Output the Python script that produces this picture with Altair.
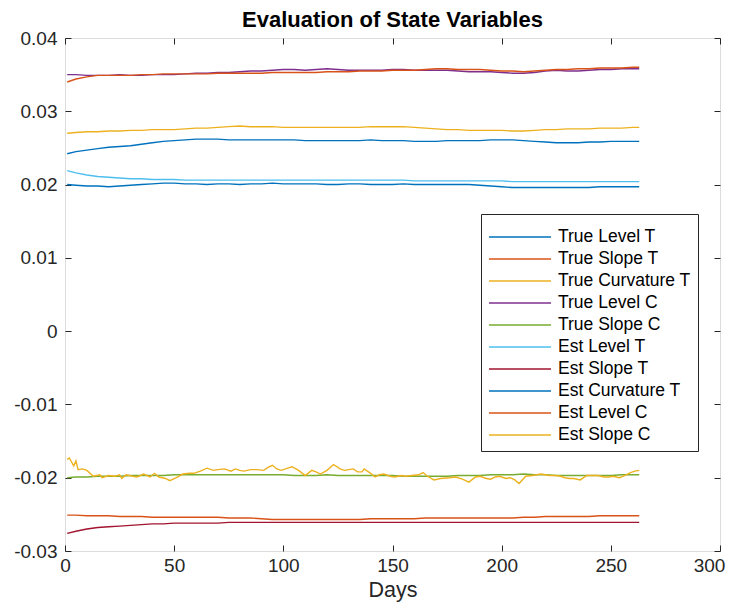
import altair as alt
import pandas as pd

days = [1, 5, 10, 15, 20, 25, 30, 35, 40, 45,
        50, 55, 60, 65, 70, 75, 80, 85, 90, 95,
        100, 105, 110, 115, 120, 125, 130, 135, 140, 145,
        150, 155, 160, 165, 170, 175, 180, 185, 190, 195,
        200, 205, 210, 215, 220, 225, 230, 235, 240, 245,
        250, 255, 260, 263]

true_level_t = [0.0200, 0.0199, 0.0198, 0.0198, 0.0197, 0.0198, 0.0199, 0.0200, 0.0201, 0.0202,
                0.0202, 0.0201, 0.0201, 0.0200, 0.0201, 0.0201, 0.0200, 0.0201, 0.0201, 0.0202,
                0.0201, 0.0201, 0.0201, 0.0201, 0.0200, 0.0200, 0.0201, 0.0201, 0.0200, 0.0200,
                0.0200, 0.0201, 0.0200, 0.0200, 0.0200, 0.0200, 0.0200, 0.0200, 0.0199, 0.0198,
                0.0197, 0.0196, 0.0196, 0.0196, 0.0196, 0.0196, 0.0196, 0.0196, 0.0196, 0.0197,
                0.0197, 0.0197, 0.0197, 0.0197]
true_slope_t = [-0.0251, -0.0251, -0.0252, -0.0252, -0.0252, -0.0253, -0.0253, -0.0253, -0.0254, -0.0254,
                -0.0254, -0.0254, -0.0254, -0.0254, -0.0254, -0.0255, -0.0255, -0.0255, -0.0256, -0.0257,
                -0.0257, -0.0257, -0.0257, -0.0257, -0.0257, -0.0257, -0.0257, -0.0257, -0.0256, -0.0256,
                -0.0256, -0.0256, -0.0256, -0.0255, -0.0255, -0.0255, -0.0255, -0.0255, -0.0255, -0.0255,
                -0.0255, -0.0255, -0.0254, -0.0254, -0.0253, -0.0253, -0.0253, -0.0253, -0.0253, -0.0252,
                -0.0252, -0.0252, -0.0252, -0.0252]
true_curv_t = [0.0270, 0.0271, 0.0272, 0.0272, 0.0273, 0.0273, 0.0274, 0.0274, 0.0275, 0.0275,
               0.0275, 0.0276, 0.0277, 0.0277, 0.0278, 0.0279, 0.0280, 0.0279, 0.0279, 0.0279,
               0.0278, 0.0278, 0.0278, 0.0278, 0.0278, 0.0278, 0.0278, 0.0278, 0.0279, 0.0279,
               0.0279, 0.0279, 0.0278, 0.0277, 0.0276, 0.0275, 0.0275, 0.0274, 0.0274, 0.0274,
               0.0274, 0.0273, 0.0273, 0.0274, 0.0275, 0.0275, 0.0276, 0.0276, 0.0276, 0.0277,
               0.0277, 0.0277, 0.0278, 0.0278]
true_level_c = [0.0350, 0.0350, 0.0349, 0.0349, 0.0349, 0.0350, 0.0349, 0.0349, 0.0350, 0.0350,
                0.0350, 0.0351, 0.0352, 0.0352, 0.0353, 0.0353, 0.0354, 0.0355, 0.0355, 0.0356,
                0.0357, 0.0357, 0.0356, 0.0357, 0.0358, 0.0357, 0.0356, 0.0356, 0.0356, 0.0356,
                0.0357, 0.0357, 0.0356, 0.0356, 0.0356, 0.0356, 0.0355, 0.0354, 0.0354, 0.0354,
                0.0353, 0.0352, 0.0352, 0.0353, 0.0355, 0.0356, 0.0355, 0.0355, 0.0356, 0.0357,
                0.0357, 0.0358, 0.0358, 0.0358]
true_slope_c = [-0.0200, -0.0199, -0.0199, -0.0198, -0.0198, -0.0198, -0.0197, -0.0197, -0.0197, -0.0197,
                -0.0196, -0.0196, -0.0196, -0.0196, -0.0196, -0.0196, -0.0196, -0.0196, -0.0196, -0.0196,
                -0.0196, -0.0197, -0.0197, -0.0197, -0.0196, -0.0197, -0.0197, -0.0197, -0.0197, -0.0197,
                -0.0197, -0.0198, -0.0198, -0.0198, -0.0198, -0.0198, -0.0197, -0.0197, -0.0197, -0.0196,
                -0.0196, -0.0196, -0.0195, -0.0196, -0.0196, -0.0197, -0.0197, -0.0197, -0.0197, -0.0197,
                -0.0197, -0.0196, -0.0196, -0.0196]
est_level_t = [0.0219, 0.0216, 0.0213, 0.0211, 0.0210, 0.0209, 0.0208, 0.0208, 0.0207, 0.0207,
               0.0207, 0.0206, 0.0206, 0.0206, 0.0206, 0.0206, 0.0206, 0.0206, 0.0206, 0.0206,
               0.0206, 0.0206, 0.0206, 0.0206, 0.0206, 0.0206, 0.0206, 0.0206, 0.0206, 0.0206,
               0.0206, 0.0206, 0.0205, 0.0205, 0.0205, 0.0205, 0.0205, 0.0205, 0.0205, 0.0205,
               0.0205, 0.0204, 0.0204, 0.0204, 0.0204, 0.0204, 0.0204, 0.0204, 0.0204, 0.0204,
               0.0204, 0.0204, 0.0204, 0.0204]
est_slope_t = [-0.0276, -0.0273, -0.0270, -0.0268, -0.0267, -0.0266, -0.0265, -0.0264, -0.0263, -0.0263,
               -0.0262, -0.0262, -0.0262, -0.0262, -0.0262, -0.0261, -0.0261, -0.0261, -0.0261, -0.0261,
               -0.0261, -0.0261, -0.0261, -0.0261, -0.0261, -0.0261, -0.0261, -0.0261, -0.0261, -0.0261,
               -0.0261, -0.0261, -0.0261, -0.0261, -0.0261, -0.0261, -0.0261, -0.0261, -0.0261, -0.0261,
               -0.0261, -0.0261, -0.0261, -0.0261, -0.0261, -0.0261, -0.0261, -0.0261, -0.0261, -0.0261,
               -0.0261, -0.0261, -0.0261, -0.0261]
est_curv_t = [0.0242, 0.0245, 0.0247, 0.0249, 0.0251, 0.0252, 0.0253, 0.0255, 0.0257, 0.0259,
              0.0260, 0.0261, 0.0262, 0.0262, 0.0262, 0.0261, 0.0261, 0.0261, 0.0261, 0.0261,
              0.0261, 0.0261, 0.0260, 0.0260, 0.0260, 0.0260, 0.0260, 0.0260, 0.0261, 0.0260,
              0.0260, 0.0260, 0.0259, 0.0259, 0.0259, 0.0260, 0.0260, 0.0260, 0.0260, 0.0261,
              0.0261, 0.0261, 0.0260, 0.0259, 0.0258, 0.0257, 0.0257, 0.0257, 0.0258, 0.0258,
              0.0259, 0.0259, 0.0259, 0.0259]
est_level_c = [0.0340, 0.0344, 0.0347, 0.0349, 0.0349, 0.0349, 0.0349, 0.0350, 0.0350, 0.0351,
               0.0351, 0.0351, 0.0351, 0.0351, 0.0352, 0.0352, 0.0352, 0.0352, 0.0352, 0.0353,
               0.0353, 0.0353, 0.0353, 0.0353, 0.0354, 0.0354, 0.0354, 0.0355, 0.0355, 0.0355,
               0.0356, 0.0356, 0.0356, 0.0357, 0.0358, 0.0358, 0.0357, 0.0357, 0.0357, 0.0356,
               0.0355, 0.0355, 0.0354, 0.0355, 0.0356, 0.0357, 0.0357, 0.0358, 0.0358, 0.0359,
               0.0359, 0.0359, 0.0360, 0.0360]

# noisy series, read at irregular days: (day, value)
est_slope_c = [(1, -0.0175), (2, -0.0173), (4, -0.0184), (5, -0.0177), (6, -0.0189), (8, -0.0188),
               (10, -0.0190), (13, -0.0198), (16, -0.0196), (17, -0.0200), (20, -0.0197), (23, -0.0198),
               (25, -0.0196), (26, -0.0201), (28, -0.0196), (31, -0.0198), (33, -0.0199), (36, -0.0195),
               (39, -0.0199), (41, -0.0194), (43, -0.0199), (46, -0.0201), (48, -0.0204), (51, -0.0200),
               (54, -0.0195), (57, -0.0194), (59, -0.0194), (62, -0.0191), (65, -0.0187), (68, -0.0190),
               (70, -0.0189), (73, -0.0188), (76, -0.0191), (78, -0.0188), (80, -0.0190), (82, -0.0191),
               (85, -0.0189), (88, -0.0189), (91, -0.0190), (93, -0.0186), (95, -0.0183), (97, -0.0188),
               (99, -0.0190), (102, -0.0187), (104, -0.0185), (107, -0.0190), (110, -0.0197), (113, -0.0190),
               (115, -0.0192), (117, -0.0195), (120, -0.0190), (123, -0.0182), (126, -0.0188), (128, -0.0190),
               (130, -0.0189), (132, -0.0188), (134, -0.0192), (136, -0.0192), (137, -0.0188), (140, -0.0194),
               (142, -0.0199), (144, -0.0196), (146, -0.0195), (149, -0.0198), (151, -0.0199), (154, -0.0197),
               (156, -0.0198), (159, -0.0197), (162, -0.0196), (164, -0.0193), (166, -0.0198), (169, -0.0203),
               (172, -0.0201), (176, -0.0200), (179, -0.0199), (182, -0.0202), (185, -0.0206), (188, -0.0199),
               (190, -0.0198), (193, -0.0201), (195, -0.0202), (197, -0.0199), (199, -0.0198), (202, -0.0201),
               (204, -0.0200), (206, -0.0203), (208, -0.0208), (211, -0.0198), (214, -0.0197), (218, -0.0195),
               (220, -0.0196), (222, -0.0197), (225, -0.0197), (227, -0.0198), (229, -0.0200), (231, -0.0201),
               (233, -0.0201), (236, -0.0203), (239, -0.0197), (241, -0.0197), (244, -0.0197), (247, -0.0199),
               (249, -0.0199), (251, -0.0198), (254, -0.0200), (257, -0.0196), (259, -0.0193), (261, -0.0191),
               (263, -0.0190)]

names = ["True Level T", "True Slope T", "True Curvature T", "True Level C", "True Slope C",
         "Est Level T", "Est Slope T", "Est Curvature T", "Est Level C", "Est Slope C"]
colors = ["#0072BD", "#D95319", "#EDB120", "#7E2F8E", "#77AC30",
          "#4DBEEE", "#A2142F", "#0072BD", "#D95319", "#EDB120"]
y_ticks = [-0.03, -0.02, -0.01, 0, 0.01, 0.02, 0.03, 0.04]
x_ticks = [0, 50, 100, 150, 200, 250, 300]

smooth = [true_level_t, true_slope_t, true_curv_t, true_level_c, true_slope_c,
          est_level_t, est_slope_t, est_curv_t, est_level_c]

rows = []
for i, series in enumerate(smooth):
    for d, v in zip(days, series):
        rows.append({"series": names[i], "order": i, "day": d, "value": v})
for d, v in est_slope_c:
    rows.append({"series": names[9], "order": 9, "day": d, "value": v})
df = pd.DataFrame(rows)

FONT = "Liberation Sans"
INK = "#262626"
TS = 6

xscale = alt.Scale(domain=[0, 300], nice=False, zero=False)
yscale = alt.Scale(domain=[-0.03, 0.04], nice=False, zero=False)

x_bottom = alt.Axis(orient="bottom", values=x_ticks, offset=-TS, tickSize=TS, domain=False, grid=False,
                    labelFontSize=19, labelPadding=5, labelColor=INK, tickColor=INK, labelFont=FONT,
                    labelOffset={"condition": {"test": "datum.value == 300", "value": -11}, "value": 0},
                    title="Days", titleFontSize=21.5, titleFontWeight="normal", titleFont=FONT,
                    titleColor=INK, titlePadding=4, labelFlush=False)
y_left = alt.Axis(orient="left", values=y_ticks, offset=-TS, tickSize=TS, domain=False, grid=False,
                  labelFontSize=19, labelPadding=8, labelColor=INK, tickColor=INK, labelFont=FONT,
                  title=None, labelExpr="toString(round(datum.value*100)/100)")
x_top = alt.Axis(orient="top", values=x_ticks, offset=-TS, tickSize=TS, domain=False, grid=False,
                 labels=False, tickColor=INK, title=None)
y_right = alt.Axis(orient="right", values=y_ticks, offset=-TS, tickSize=TS, domain=False, grid=False,
                   labels=False, tickColor=INK, title=None)

lines = alt.Chart(df).mark_line(strokeWidth=1.4).encode(
    x=alt.X("day:Q", scale=xscale, axis=x_bottom),
    y=alt.Y("value:Q", scale=yscale, axis=y_left),
    color=alt.Color("series:N", scale=alt.Scale(domain=names, range=colors),
                    legend=alt.Legend(orient="none", legendX=416, legendY=176, title=" ",
                                      titleFontSize=5, titlePadding=2,
                                      symbolType="M-1,0H6.75", symbolSize=256, symbolStrokeWidth=1.4,
                                      labelFontSize=17.5, labelFont=FONT, labelColor="#000000",
                                      strokeColor=INK, fillColor="white", padding=7,
                                      rowPadding=4.0, labelOffset=52, cornerRadius=0,
                                      labelLimit=300)),
    detail="order:O",
)

frame_axes = alt.Chart(df).mark_line(opacity=0).encode(
    x=alt.X("day:Q", scale=xscale, axis=x_top),
    y=alt.Y("value:Q", scale=yscale, axis=y_right),
    detail="series:N",
)

chart = alt.layer(lines, frame_axes).resolve_axis(x="independent", y="independent").properties(
    width=655, height=513,
    title=alt.TitleParams("Evaluation of State Variables", fontSize=22, fontWeight="bold",
                          font=FONT, color="#000000", anchor="middle", offset=-3),
    autosize=alt.AutoSizeParams(type="none"),
    padding={"left": 57, "top": 30, "right": 6, "bottom": 51},
).configure_view(stroke=INK, strokeWidth=1).configure(background="white")

chart.save("out.html", embed_options={"renderer": "svg", "actions": False})
